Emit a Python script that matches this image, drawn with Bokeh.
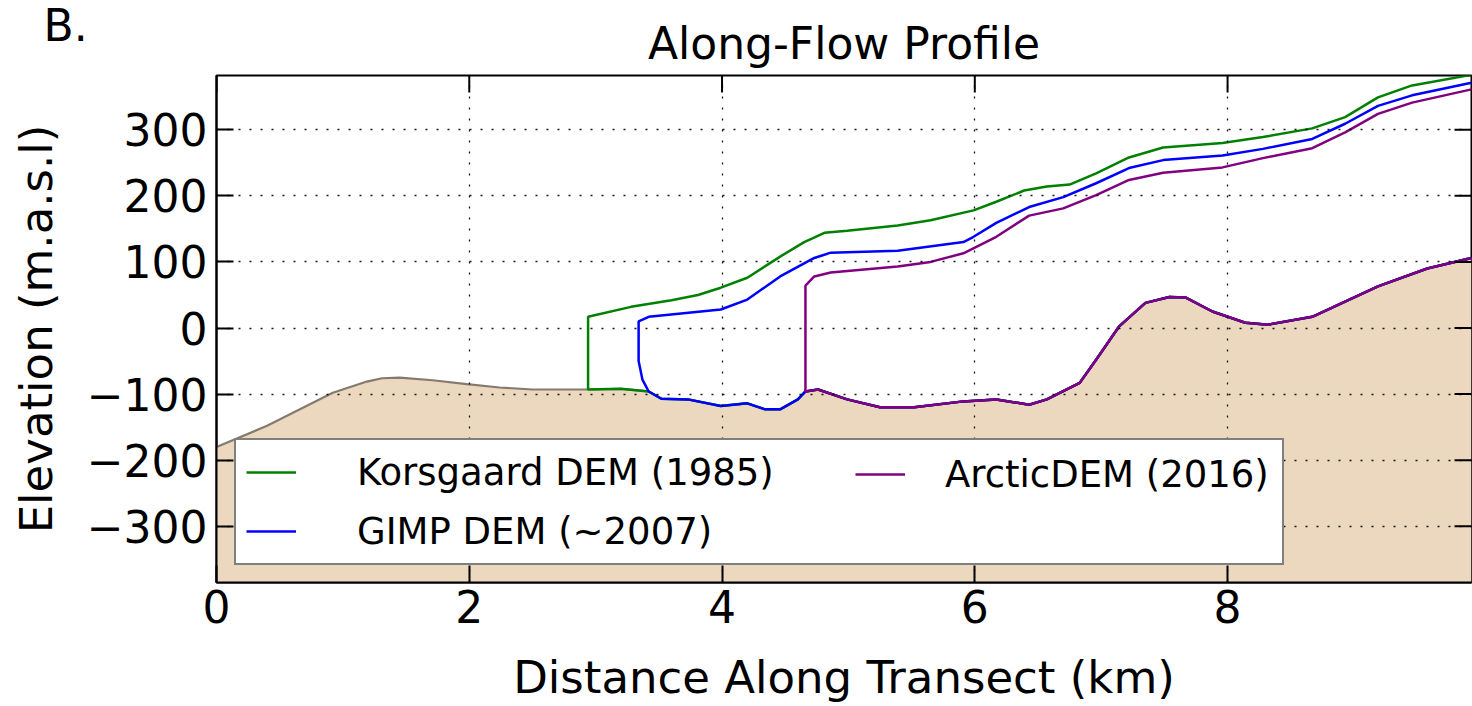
import math
from bokeh.plotting import figure
from bokeh.models import Range1d, Legend, LegendItem, Title
from bokeh.embed import file_html
from bokeh.resources import INLINE

# ---------------- data (km, m a.s.l.) ----------------
bed_x = [0.0, 0.4, 0.66, 0.92, 1.19, 1.31, 1.45, 1.71, 1.98, 2.24, 2.5, 2.76, 2.94,
         3.2, 3.42, 3.52, 3.73, 3.99, 4.2, 4.34, 4.46, 4.6, 4.66, 4.76, 4.99, 5.25,
         5.52, 5.91, 6.17, 6.43, 6.57, 6.83, 6.96, 7.14, 7.35, 7.54, 7.67, 7.88,
         8.14, 8.32, 8.67, 8.93, 9.19, 9.58, 9.93]
bed_y = [-180, -148, -123, -98, -81, -76, -75, -79, -85, -90, -93, -93, -93,
         -92, -96, -107, -108, -118, -114, -123, -123, -108, -96, -93, -108, -120,
         -120, -111, -108, -116, -108, -83, -48, 2, 38, 47, 46, 25,
         8, 5, 17, 40, 63, 90, 106]

korsgaard_front = 2.94
korsgaard_x = [2.94, 3.28, 3.6, 3.81, 3.99, 4.2, 4.46, 4.65, 4.81, 4.99, 5.39, 5.65,
               5.99, 6.17, 6.39, 6.57, 6.75, 6.96, 7.22, 7.49, 7.96, 8.28, 8.67,
               8.93, 9.19, 9.46, 9.93]
korsgaard_y = [17, 32, 42, 50, 61, 76, 108, 130, 144, 147, 155, 163,
               178, 191, 208, 214, 217, 234, 258, 273, 280, 289, 302,
               319, 349, 367, 383]

gimp_front = 3.42
gimp_x = [3.37, 3.34, 3.34, 3.42, 3.99, 4.2, 4.46, 4.73, 4.86, 5.39, 5.91, 5.99,
          6.17, 6.43, 6.7, 6.96, 7.22, 7.49, 7.96, 8.28, 8.67, 8.93, 9.19, 9.46, 9.93]
gimp_y = [-78, -50, 10, 17, 28, 43, 78, 106, 114, 117, 130, 138,
          159, 183, 198, 219, 242, 254, 261, 271, 286, 309, 336, 352, 371]

arctic_front = 4.66
arctic_x = [4.66, 4.73, 4.86, 5.39, 5.65, 5.91, 6.17, 6.43, 6.7, 6.96, 7.22, 7.49,
            7.96, 8.28, 8.67, 8.93, 9.19, 9.46, 9.93]
arctic_y = [64, 78, 84, 93, 100, 113, 138, 170, 181, 201, 224, 235,
            243, 257, 272, 296, 324, 341, 361]

x_ticks = [0, 2, 4, 6, 8]
y_ticks = [-300, -200, -100, 0, 100, 200, 300]
y_tick_labels = {-300: "\u2212300", -200: "\u2212200", -100: "\u2212100",
                 0: "0", 100: "100", 200: "200", 300: "300"}

labels = ["Korsgaard DEM (1985)", "GIMP DEM (~2007)", "ArcticDEM (2016)"]
colors = ["#008000", "#0000ff", "#800080"]

X_MIN, X_MAX = 0, 9.93
Y_MIN, Y_MAX = -385, 382
BED_BASE = -1000
FONT = "DejaVu Sans"

# ---------------- figure ----------------
p = figure(width=1472, height=706, output_backend="svg", toolbar_location=None,
           x_range=Range1d(X_MIN, X_MAX), y_range=Range1d(Y_MIN, Y_MAX),
           min_border_left=216, min_border_right=1, min_border_top=75,
           min_border_bottom=123)
p.background_fill_color = "white"
p.border_fill_color = "white"
p.outline_line_color = "black"
p.outline_line_width = 2
p.title.text = ""
p.title.visible = False


def make_title(text, align, standoff, offset=0):
    return Title(text=text, align=align, text_font=FONT, text_font_size="44px",
                 text_font_style="normal", text_color="black", standoff=standoff,
                 vertical_align="bottom", offset=offset)


# a blank title just reserves a gap between the frame and the real title
p.add_layout(make_title("\u00a0", "center", -34), "above")
p.add_layout(make_title("Along-Flow Profile", "center", -25), "above")
p.add_layout(make_title("B.", "left", -44, offset=-173), "above")

xax = p.below[0]
yax = p.left[0]
xax.ticker = x_ticks
yax.ticker = y_ticks

for ax in [xax, yax]:
    ax.axis_line_color = "black"
    ax.axis_line_width = 2
    ax.major_tick_in = 17
    ax.major_tick_out = 0
    ax.major_tick_line_width = 2
    ax.major_tick_line_color = "black"
    ax.minor_tick_line_color = None
    ax.major_label_text_font = FONT
    ax.major_label_text_font_size = "44px"
    ax.major_label_text_color = "black"
    ax.axis_label_text_font = FONT
    ax.axis_label_text_font_size = "45px"
    ax.axis_label_text_font_style = "normal"
    ax.axis_label_text_color = "black"

yax.major_label_overrides = y_tick_labels
yax.axis_label = "Elevation (m.a.s.l)"
yax.major_label_standoff = 9
yax.axis_label_standoff = 21
xax.axis_label = "Distance Along Transect (km)"
xax.major_label_standoff = 7
xax.axis_label_standoff = 25

for g in [p.xgrid[0], p.ygrid[0]]:
    g.grid_line_color = "black"
    g.grid_line_dash = "2 9"
    g.grid_line_width = 1.3
    g.grid_line_alpha = 0.9
    g.level = "guide"

# ---------------- glyphs ----------------
p.varea(x=bed_x, y1=BED_BASE, y2=bed_y, fill_color="#ebd8bf")
p.line(bed_x, bed_y, line_color="#857a6e", line_width=2.2)


def dem_path(front, sx, sy):
    pairs = [(x, y) for x, y in zip(bed_x, bed_y) if x >= front][::-1]
    return [a for a, _ in pairs] + list(sx), [b for _, b in pairs] + list(sy)


renderers = []
for (front, sx, sy), col in zip([(korsgaard_front, korsgaard_x, korsgaard_y),
                                 (gimp_front, gimp_x, gimp_y),
                                 (arctic_front, arctic_x, arctic_y)], colors):
    px, py = dem_path(front, sx, sy)
    renderers.append(p.line(px, py, line_color=col, line_width=2.5))

# inward ticks on the top and right edges (matplotlib classic style)
p.scatter(x=x_ticks, y=[Y_MAX] * len(x_ticks), marker="dash", size=34,
          angle=math.pi / 2, line_color="black", line_width=2)
p.scatter(x=[X_MAX] * len(y_ticks), y=y_ticks, marker="dash", size=34,
          line_color="black", line_width=2)

# ---------------- legend ----------------
def make_legend(items, loc, standoff, label_width, boxed):
    lg = Legend(items=items, location=loc, orientation="vertical",
                label_text_font=FONT, label_text_font_size="37px",
                label_text_color="black", glyph_width=50, glyph_height=44,
                label_height=44, label_standoff=standoff, label_width=label_width,
                padding=10, spacing=15, margin=0)
    if boxed:
        lg.border_line_color = "black"
        lg.border_line_width = 2.5
        lg.background_fill_color = "white"
        lg.background_fill_alpha = 1.0
    else:
        lg.border_line_alpha = 0
        lg.background_fill_alpha = 0
    return lg


leg_a = make_legend([LegendItem(label=labels[0], renderers=[renderers[0]]),
                     LegendItem(label=labels[1], renderers=[renderers[1]])],
                    (18, 17), 61, 915, True)
leg_b = make_legend([LegendItem(label=labels[2], renderers=[renderers[2]])],
                    (629, 76), 40, 20, False)
p.add_layout(leg_a, "center")
p.add_layout(leg_b, "center")

open("out.html", "w").write(file_html(p, INLINE))
